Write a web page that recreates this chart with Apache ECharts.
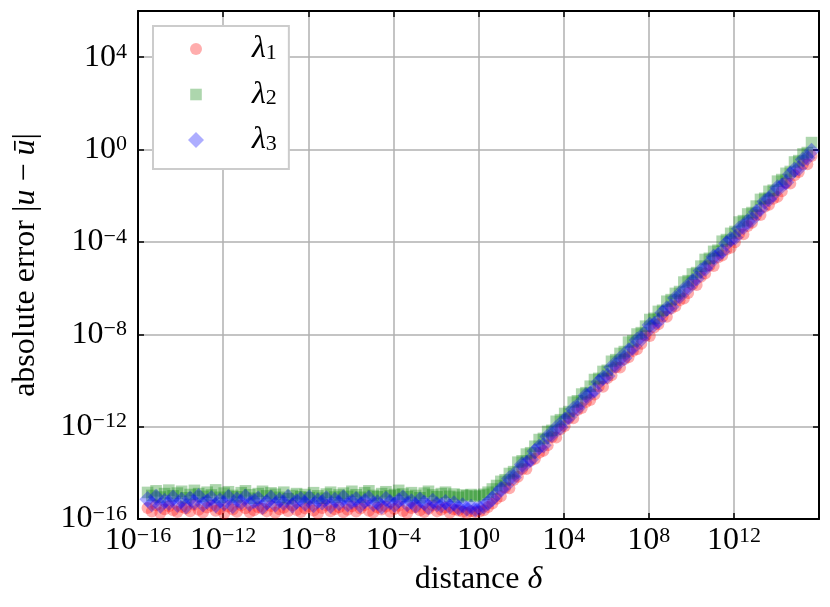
<!DOCTYPE html>
<html>
<head>
<meta charset="utf-8">
<script src="https://cdn.jsdelivr.net/npm/echarts@6/dist/echarts.min.js"></script>
<style>
html,body{margin:0;padding:0;background:#ffffff;}
#chart{width:830px;height:607px;}
</style>
</head>
<body>
<div id="chart"></div>
<script>
// log10 of distance delta (x positions)
const deltaExp = [
-15.55,-15.35,-15.15,-14.95,-14.75,-14.55,-14.35,-14.15,-13.95,-13.75,
-13.55,-13.35,-13.15,-12.95,-12.75,-12.55,-12.35,-12.15,-11.95,-11.75,
-11.55,-11.35,-11.15,-10.95,-10.75,-10.55,-10.35,-10.15,-9.95,-9.75,
-9.55,-9.35,-9.15,-8.95,-8.75,-8.55,-8.35,-8.15,-7.95,-7.75,
-7.55,-7.35,-7.15,-6.95,-6.75,-6.55,-6.35,-6.15,-5.95,-5.75,
-5.55,-5.35,-5.15,-4.95,-4.75,-4.55,-4.35,-4.15,-3.95,-3.75,
-3.55,-3.35,-3.15,-2.95,-2.75,-2.55,-2.35,-2.15,-1.95,-1.75,
-1.55,-1.35,-1.15,-0.95,-0.75,-0.55,-0.35,-0.15,0.05,0.25,
0.45,0.65,0.85,1.05,1.25,1.45,1.65,1.85,2.05,2.25,
2.45,2.65,2.85,3.05,3.25,3.45,3.65,3.85,4.05,4.25,
4.45,4.65,4.85,5.05,5.25,5.45,5.65,5.85,6.05,6.25,
6.45,6.65,6.85,7.05,7.25,7.45,7.65,7.85,8.05,8.25,
8.45,8.65,8.85,9.05,9.25,9.45,9.65,9.85,10.05,10.25,
10.45,10.65,10.85,11.05,11.25,11.45,11.65,11.85,12.05,12.25,
12.45,12.65,12.85,13.05,13.25,13.45,13.65,13.85,14.05,14.25,
14.45,14.65,14.85,15.05,15.25,15.45,15.65
];
// log10 of absolute error for lambda_1 (red circles)
const lambda1Exp = [
-15.52,-15.68,-15.40,-15.74,-15.58,-15.45,-15.62,-15.70,-15.48,-15.55,
-15.66,-15.38,-15.60,-15.72,-15.50,-15.43,-15.64,-15.57,-15.76,-15.46,
-15.59,-15.69,-15.41,-15.53,-15.71,-15.62,-15.49,-15.56,-15.67,-15.44,
-15.73,-15.58,-15.51,-15.65,-15.40,-15.61,-15.70,-15.54,-15.47,-15.63,
-15.75,-15.52,-15.42,-15.66,-15.58,-15.49,-15.71,-15.60,-15.45,-15.68,
-15.55,-15.39,-15.64,-15.72,-15.50,-15.59,-15.46,-15.69,-15.57,-15.43,
-15.65,-15.74,-15.52,-15.48,-15.62,-15.70,-15.56,-15.41,-15.67,-15.60,
-15.50,-15.73,-15.58,-15.63,-15.69,-15.74,-15.66,-15.71,
-15.68,-15.62,-15.48,-15.33,-15.12,-15.01,-14.65,-14.67,-14.31,-14.17,
-13.83,-13.84,-13.48,-13.39,-13.13,-13.05,-12.81,-12.45,-12.47,-12.11,
-11.97,-11.63,-11.64,-11.28,-11.19,-10.93,-10.85,-10.61,-10.25,-10.27,
-9.91,-9.77,-9.43,-9.44,-9.08,-8.99,-8.73,-8.65,-8.41,-8.05,
-8.07,-7.71,-7.57,-7.23,-7.24,-6.88,-6.79,-6.53,-6.45,-6.21,
-5.85,-5.87,-5.51,-5.37,-5.03,-5.04,-4.68,-4.59,-4.33,-4.25,
-4.01,-3.65,-3.67,-3.31,-3.17,-2.83,-2.84,-2.48,-2.39,-2.13,
-2.05,-1.81,-1.45,-1.47,-1.11,-0.97,-0.63,-0.64,-0.28
];
// log10 of absolute error for lambda_2 (green squares)
const lambda2Exp = [
-14.85,-14.98,-14.78,-15.05,-14.90,-14.75,-15.00,-14.88,-14.80,-15.08,
-14.94,-14.76,-14.90,-15.02,-14.84,-14.96,-14.74,-15.06,-14.88,-14.82,
-14.98,-15.04,-14.86,-14.78,-14.95,-15.10,-14.90,-14.80,-15.00,-14.87,
-14.93,-15.06,-14.84,-15.12,-14.98,-14.90,-15.04,-14.94,-15.08,-14.86,
-15.00,-15.10,-14.92,-14.84,-15.05,-14.96,-14.88,-15.02,-14.80,-14.95,
-15.06,-14.86,-14.78,-14.98,-15.04,-14.90,-14.82,-15.00,-14.94,-14.76,
-14.92,-15.03,-14.86,-14.98,-15.08,-14.88,-14.80,-14.96,-15.04,-14.90,
-14.84,-15.02,-14.92,-15.06,-14.96,-15.00,-14.94,-15.02,
-14.98,-14.93,-14.84,-14.70,-14.55,-14.37,-14.30,-14.03,-13.95,-13.54,
-13.48,-13.19,-13.13,-12.85,-12.56,-12.51,-12.21,-12.16,-11.77,-11.70,
-11.43,-11.35,-10.94,-10.88,-10.59,-10.53,-10.25,-9.96,-9.91,-9.61,
-9.56,-9.17,-9.10,-8.83,-8.75,-8.34,-8.28,-7.99,-7.93,-7.65,
-7.36,-7.31,-7.01,-6.96,-6.57,-6.50,-6.23,-6.15,-5.74,-5.68,
-5.39,-5.33,-5.05,-4.76,-4.71,-4.41,-4.36,-3.97,-3.90,-3.63,
-3.55,-3.14,-3.08,-2.79,-2.73,-2.45,-2.16,-2.11,-1.81,-1.76,
-1.37,-1.30,-1.03,-0.95,-0.54,-0.48,-0.19,-0.13,0.30
];
// log10 of absolute error for lambda_3 (blue diamonds)
const lambda3Exp = [
-15.15,-15.35,-15.05,-15.42,-15.22,-15.30,-15.08,-15.38,-15.18,-15.45,
-15.12,-15.28,-15.02,-15.36,-15.24,-15.10,-15.40,-15.20,-15.32,-15.06,
-15.44,-15.16,-15.26,-15.04,-15.34,-15.22,-15.12,-15.47,-15.28,-15.09,
-15.37,-15.19,-15.30,-15.05,-15.41,-15.24,-15.14,-15.33,-15.08,-15.39,
-15.21,-15.27,-15.11,-15.43,-15.18,-15.31,-15.07,-15.36,-15.25,-15.15,
-15.40,-15.22,-15.10,-15.34,-15.29,-15.46,-15.13,-15.26,-15.38,-15.20,
-15.08,-15.35,-15.24,-15.42,-15.17,-15.30,-15.48,-15.22,-15.36,-15.40,
-15.28,-15.45,-15.33,-15.50,-15.42,-15.55,-15.48,-15.58,
-15.52,-15.45,-15.30,-15.12,-14.93,-14.70,-14.58,-14.25,-14.20,-13.92,
-13.64,-13.57,-13.42,-13.07,-12.88,-12.81,-12.43,-12.35,-12.06,-12.03,
-11.70,-11.58,-11.25,-11.20,-10.92,-10.64,-10.57,-10.42,-10.07,-9.88,
-9.81,-9.43,-9.35,-9.06,-9.03,-8.70,-8.58,-8.25,-8.20,-7.92,
-7.60,-7.57,-7.42,-7.07,-6.88,-6.81,-6.43,-6.35,-6.06,-5.98,
-5.70,-5.58,-5.25,-5.16,-4.92,-4.64,-4.57,-4.42,-4.07,-3.88,
-3.81,-3.43,-3.35,-3.10,-3.03,-2.70,-2.58,-2.25,-2.15,-1.92,
-1.64,-1.57,-1.42,-1.07,-0.88,-0.81,-0.43,-0.35,-0.06
];
const seriesNames = ['λ1', 'λ2', 'λ3'];
const seriesColors = ['rgba(255,0,0,0.4)', 'rgba(0,128,0,0.4)', 'rgba(0,0,255,0.4)'];
const xTickExps = [-16, -12, -8, -4, 0, 4, 8, 12];
const yTickExps = [-16, -12, -8, -4, 0, 4];

const FONT = 'Liberation Serif';
const tickRich = {
  b: {fontFamily: FONT, fontSize: 32, lineHeight: 32, color: '#000', verticalAlign: 'bottom'},
  s: {fontFamily: FONT, fontSize: 22, lineHeight: 18, color: '#000', verticalAlign: 'top'}
};
function expLabel(e) {
  const t = e < 0 ? '\u2212' + Math.abs(e) : String(e);
  return '{b|10}{s|' + t + '}';
}
function makeFormatter(list) {
  return function (v) {
    const e = Math.round(Math.log10(v));
    return list.indexOf(e) >= 0 ? expLabel(e) : '';
  };
}
const nameRich = {
  r: {fontFamily: FONT, fontSize: 32, color: '#000'},
  i: {fontFamily: FONT, fontSize: 32, fontStyle: 'italic', color: '#000'}
};

function toPoints(ys) {
  return deltaExp.map(function (e, i) { return [Math.pow(10, e), Math.pow(10, ys[i])]; });
}

const frameLine = {show: true, onZero: false, lineStyle: {color: '#000', width: 2}};
const tickStyle = {show: true, inside: true, length: 6, lineStyle: {color: '#000', width: 1.5}};
const gridLine = {show: true, lineStyle: {color: '#b0b0b0', width: 1.5}};

const chart = echarts.init(document.getElementById('chart'), null, {renderer: 'canvas'});
const option = {
  animation: false,
  backgroundColor: '#ffffff',
  grid: {left: 138, right: 11, top: 11, bottom: 88, containLabel: false},
  xAxis: [
    {
      type: 'log', logBase: 10, min: 1e-16, max: 1e16, interval: 4,
      position: 'bottom',
      axisLine: frameLine, axisTick: tickStyle, minorTick: {show: false},
      splitLine: gridLine, minorSplitLine: {show: false},
      axisLabel: {formatter: makeFormatter(xTickExps), margin: 6, rich: tickRich},
      name: '{r|distance }{i|δ}', nameLocation: 'middle', nameGap: 45,
      nameTextStyle: {rich: nameRich}
    },
    {
      type: 'log', logBase: 10, min: 1e-16, max: 1e16, interval: 4,
      position: 'top',
      axisLine: frameLine, axisTick: tickStyle, minorTick: {show: false},
      splitLine: {show: false}, axisLabel: {show: false}
    }
  ],
  yAxis: [
    {
      type: 'log', logBase: 10, min: 1e-16, max: 1e6, interval: 4,
      position: 'left',
      axisLine: frameLine, axisTick: tickStyle, minorTick: {show: false},
      splitLine: gridLine, minorSplitLine: {show: false},
      axisLabel: {formatter: makeFormatter(yTickExps), margin: 11, rich: tickRich},
      name: '{r|absolute error |}{i|u}{r| \u2212 }{i|ū}{r||}', nameLocation: 'middle', nameGap: 96,
      nameTextStyle: {rich: nameRich}
    },
    {
      type: 'log', logBase: 10, min: 1e-16, max: 1e6, interval: 4,
      position: 'right',
      axisLine: frameLine, axisTick: tickStyle, minorTick: {show: false},
      splitLine: {show: false}, axisLabel: {show: false}
    }
  ],
  legend: {
    orient: 'vertical', left: 153, top: 26,
    padding: [7, 12, 13, 35],
    itemWidth: 16, itemHeight: 16, itemGap: 13.5,
    backgroundColor: '#ffffff', borderColor: '#cccccc', borderWidth: 2, borderRadius: 0,
    selectedMode: false,
    data: [
      {name: seriesNames[0], icon: 'path://M0 0L0 0M16 16L16 16M2 8A6 6 0 1 1 14 8A6 6 0 1 1 2 8Z'},
      {name: seriesNames[1], icon: 'path://M0 0L0 0M16 16L16 16M2.2 2.2L13.8 2.2L13.8 13.8L2.2 13.8Z'},
      {name: seriesNames[2], icon: 'path://M8 0L16 8L8 16L0 8Z'}
    ],
    formatter: function (n) { return '{l|λ}{sub|' + n.slice(1) + '}'; },
    textStyle: {
      padding: [0, 0, 0, 43],
      rich: {
        l: {fontFamily: FONT, fontSize: 32, fontStyle: 'italic', lineHeight: 30, color: '#000'},
        sub: {fontFamily: FONT, fontSize: 22, lineHeight: 14, color: '#000', verticalAlign: 'bottom'}
      }
    }
  },
  series: [
    {name: seriesNames[0], type: 'scatter', xAxisIndex: 0, yAxisIndex: 0, symbol: 'circle', symbolSize: 12,
     itemStyle: {color: seriesColors[0]}, data: toPoints(lambda1Exp), z: 3},
    {name: seriesNames[1], type: 'scatter', xAxisIndex: 0, yAxisIndex: 0, symbol: 'rect', symbolSize: 11.6,
     itemStyle: {color: seriesColors[1]}, data: toPoints(lambda2Exp), z: 3},
    {name: seriesNames[2], type: 'scatter', xAxisIndex: 0, yAxisIndex: 0, symbol: 'diamond', symbolSize: 16.5,
     itemStyle: {color: seriesColors[2]}, data: toPoints(lambda3Exp), z: 3}
  ]
};
chart.setOption(option);
</script>
</body>
</html>
